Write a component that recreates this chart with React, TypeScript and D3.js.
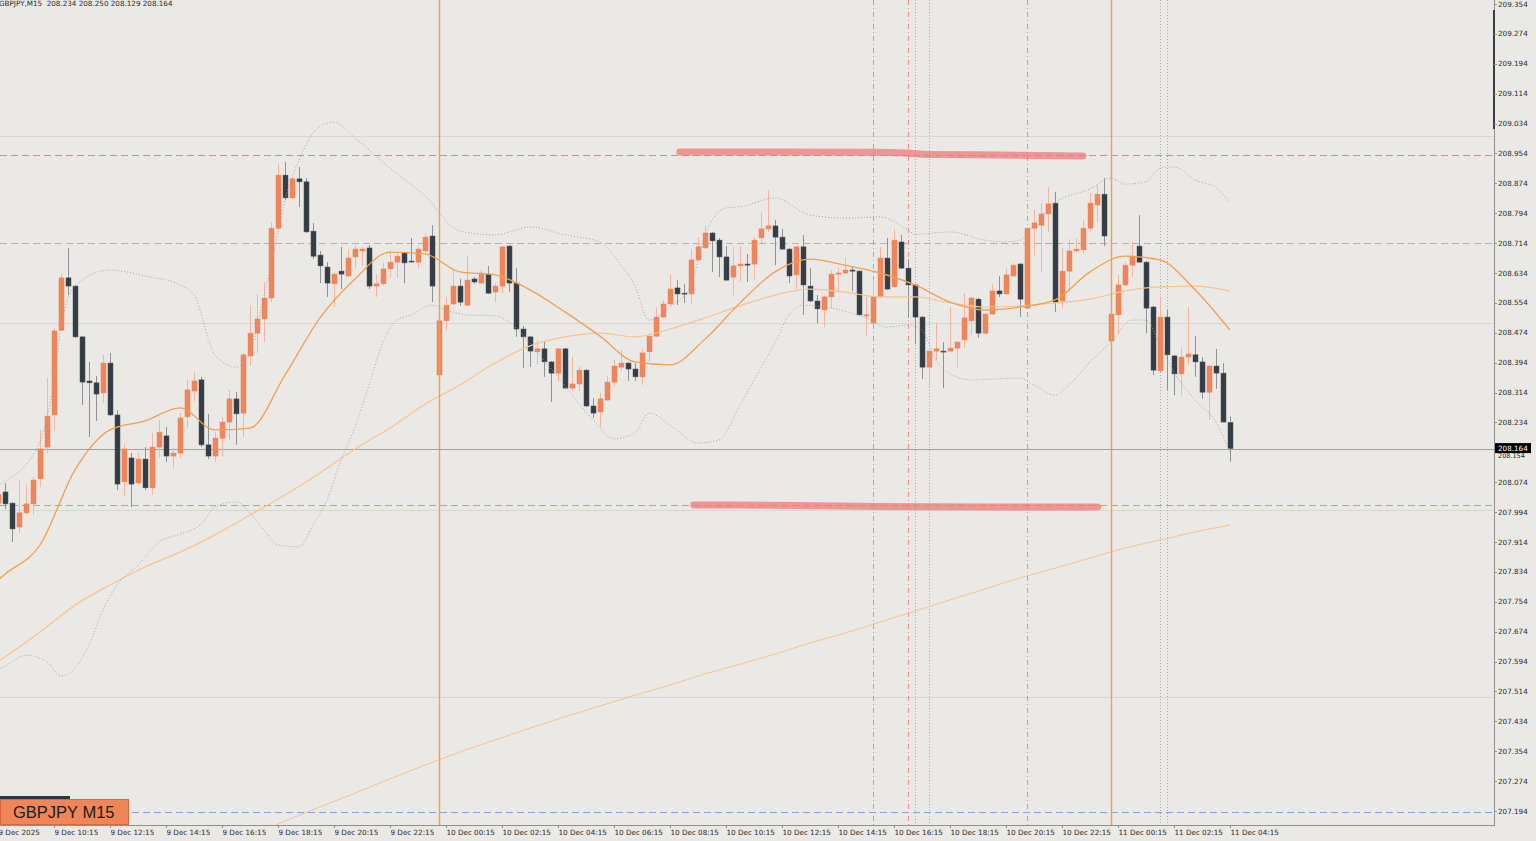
import React from "react";
import * as d3 from "d3";

// ---------- DATA ----------
const FIRST_BAR = -1; // index of first (partly visible) bar
const LAST_BAR = 175;

const opens = [208.018,208.048,208.018,207.954,207.992,208.016,208.083,208.168,208.254,208.481,208.621,208.599,208.463,208.345,208.340,208.313,208.393,208.254,208.075,208.139,208.072,208.136,208.059,208.168,208.198,208.144,208.152,208.249,208.318,208.348,208.174,208.144,208.192,208.235,208.297,208.259,208.412,208.473,208.511,208.567,208.754,208.896,208.835,208.886,208.878,208.746,208.682,208.650,208.605,208.639,208.626,208.677,208.693,208.701,208.599,208.605,208.645,208.663,208.688,208.666,208.663,208.693,208.733,208.361,208.506,208.551,208.599,208.548,208.618,208.607,208.631,208.583,208.599,208.706,208.607,208.484,208.463,208.423,208.431,208.396,208.366,208.431,208.326,208.337,208.374,208.278,208.262,208.294,208.342,208.382,208.393,208.377,208.356,208.423,208.465,208.516,208.551,208.594,208.580,208.578,208.669,208.701,208.741,208.722,208.677,208.623,208.653,208.658,208.658,208.728,208.752,208.760,208.730,208.698,208.629,208.704,208.599,208.559,208.535,208.570,208.631,208.634,208.642,208.639,208.519,208.500,208.570,208.674,208.597,208.717,208.647,208.602,208.516,208.382,208.425,208.425,208.425,208.433,208.455,208.506,208.564,208.473,208.524,208.586,208.578,208.626,208.658,208.540,208.754,208.762,208.792,208.821,208.559,208.639,208.693,208.696,208.754,208.816,208.845,208.452,208.522,208.602,208.655,208.706,208.663,208.543,208.372,208.516,208.412,208.364,208.409,208.415,208.396,208.315,208.385,208.366,208.234];
const highs = [208.053,208.072,208.021,208.080,208.067,208.088,208.214,208.353,208.487,208.634,208.701,208.602,208.465,208.396,208.358,208.415,208.420,208.267,208.176,208.152,208.152,208.168,208.206,208.241,208.222,208.166,208.259,208.348,208.369,208.356,208.257,208.208,208.249,208.321,208.315,208.420,208.548,208.578,208.610,208.770,208.928,208.931,208.891,208.918,208.888,208.768,208.693,208.663,208.637,208.704,208.698,208.709,208.704,208.709,208.631,208.661,208.688,208.688,208.690,208.728,208.704,208.741,208.762,208.508,208.570,208.642,208.618,208.679,208.623,208.642,208.653,208.607,208.706,208.709,208.647,208.492,208.465,208.455,208.449,208.398,208.433,208.433,208.409,208.385,208.377,208.299,208.313,208.358,208.401,208.428,208.396,208.393,208.431,208.473,208.543,208.562,208.629,208.615,208.605,208.698,208.730,208.762,208.744,208.728,208.706,208.704,208.706,208.685,208.730,208.797,208.856,208.776,208.752,208.701,208.706,208.736,208.647,208.575,208.573,208.642,208.647,208.674,208.650,208.642,208.570,208.615,208.704,208.728,208.752,208.736,208.671,208.605,208.519,208.428,208.500,208.449,208.543,208.452,208.580,208.570,208.567,208.527,208.605,208.626,208.647,208.661,208.661,208.757,208.803,208.821,208.864,208.851,208.701,208.725,208.728,208.776,208.848,208.870,208.888,208.527,208.629,208.663,208.717,208.789,208.666,208.546,208.572,208.535,208.415,208.436,208.543,208.465,208.409,208.388,208.431,208.393,208.250];
const lows = [208.010,208.002,207.914,207.938,207.986,207.986,208.061,208.152,208.211,208.479,208.575,208.460,208.281,208.195,208.238,208.286,208.251,208.053,208.037,208.008,208.067,208.053,208.040,208.139,208.128,208.112,208.139,208.219,208.291,208.168,208.136,208.128,208.142,208.187,208.174,208.195,208.385,208.420,208.449,208.556,208.749,208.829,208.832,208.811,208.741,208.671,208.607,208.570,208.543,208.591,208.623,208.647,208.653,208.591,208.570,208.599,208.621,208.621,208.607,208.663,208.647,208.690,208.556,208.358,208.479,208.548,208.546,208.543,208.605,208.605,208.578,208.556,208.580,208.583,208.463,208.380,208.382,208.390,208.356,208.289,208.342,208.324,208.318,208.318,208.275,208.246,208.222,208.291,208.329,208.372,208.345,208.345,208.334,208.396,208.463,208.514,208.548,208.548,208.554,208.551,208.666,208.698,208.637,208.623,208.613,208.575,208.610,208.610,208.615,208.714,208.744,208.655,208.696,208.607,208.591,208.522,208.556,208.500,208.489,208.540,208.583,208.631,208.586,208.519,208.463,208.497,208.567,208.589,208.594,208.645,208.514,208.444,208.350,208.326,208.401,208.326,208.423,208.382,208.433,208.468,208.460,208.468,208.522,208.570,208.575,208.623,208.516,208.538,208.682,208.637,208.744,208.530,208.538,208.583,208.688,208.688,208.744,208.770,208.706,208.449,208.473,208.599,208.623,208.663,208.473,208.361,208.369,208.321,208.307,208.305,208.388,208.356,208.297,208.241,208.324,208.235,208.129];
const closes = [208.042,208.016,207.949,207.992,208.016,208.080,208.163,208.251,208.479,208.621,208.599,208.463,208.342,208.340,208.310,208.393,208.254,208.069,208.163,208.069,208.136,208.059,208.168,208.208,208.144,208.152,208.246,208.321,208.345,208.174,208.144,208.192,208.235,208.297,208.257,208.415,208.473,208.511,208.567,208.754,208.896,208.835,208.886,208.878,208.744,208.679,208.653,208.607,208.631,208.631,208.674,208.698,208.698,208.599,208.605,208.645,208.663,208.679,208.661,208.665,208.698,208.730,208.599,208.506,208.548,208.599,208.556,208.615,208.610,208.634,208.580,208.599,208.704,208.607,208.484,208.463,208.425,208.431,208.396,208.366,208.431,208.326,208.337,208.374,208.278,208.259,208.297,208.342,208.385,208.393,208.377,208.356,208.420,208.465,208.516,208.551,208.591,208.578,208.578,208.669,208.704,208.741,208.720,208.677,208.615,208.653,208.658,208.655,208.722,208.752,208.760,208.730,208.698,208.626,208.704,208.602,208.559,208.538,208.570,208.631,208.634,208.642,208.639,208.522,208.522,208.570,208.674,208.591,208.722,208.647,208.602,208.516,208.382,208.425,208.431,208.423,208.433,208.449,208.514,208.567,208.473,208.524,208.586,208.578,208.629,208.655,208.564,208.754,208.768,208.792,208.819,208.556,208.639,208.693,208.698,208.754,208.821,208.845,208.733,208.524,208.602,208.655,208.677,208.663,208.540,208.374,208.516,208.415,208.364,208.409,208.417,208.396,208.315,208.385,208.366,208.235,208.164];

// moving averages (at bar indices)
const maIdx = [-1,0,5,10,15,20,25,30,35,40,45,50,55,60,65,70,75,80,85,90,95,100,105,110,115,120,125,130,135,140,145,150,155,160,165,170,175];
const fastMA = [207.812,207.828,207.906,208.107,208.214,208.238,208.273,208.214,208.219,208.361,208.514,208.618,208.690,208.685,208.637,208.629,208.589,208.530,208.465,208.396,208.388,208.457,208.554,208.637,208.671,208.655,208.634,208.602,208.556,208.535,208.543,208.562,208.637,208.679,208.669,208.589,208.481];
const midMA = [207.593,207.606,207.673,207.745,207.799,207.847,207.887,207.933,207.986,208.040,208.099,208.163,208.219,208.283,208.334,208.393,208.439,208.463,208.473,208.463,208.484,208.514,208.546,208.575,208.591,208.583,208.570,208.570,208.554,208.543,208.546,208.554,208.564,208.586,208.597,208.599,208.586];
const slowIdx = [30,35,40,45,50,55,60,65,70,75,80,85,90,95,100,105,110,115,120,125,130,135,140,145,150,155,160,165,170,175];
const slowMA = [207.090,207.127,207.167,207.205,207.242,207.280,207.317,207.352,207.384,207.416,207.446,207.475,207.504,207.531,207.561,207.587,207.614,207.644,207.670,207.700,207.729,207.759,207.788,207.818,207.844,207.871,207.898,207.919,207.941,207.959];

// Bollinger bands
const bbUpIdx = [-1,0,5,7,8,10,15,20,25,27,30,33,35,37,39,40,42,45,47,50,55,60,65,70,75,80,85,88,90,92,95,98,100,103,105,110,115,120,125,129,130,135,140,143,145,147,150,155,158,160,163,165,167,170,173,175];
const bbUp = [208.067,208.077,208.182,208.348,208.487,208.599,208.642,208.626,208.602,208.575,208.415,208.382,208.422,208.572,208.741,208.829,208.936,209.027,209.038,208.995,208.915,208.840,208.746,208.736,208.757,208.736,208.717,208.655,208.599,208.508,208.543,208.602,208.736,208.808,208.811,208.835,208.789,208.781,208.784,208.749,208.738,208.744,208.722,208.717,208.722,208.762,208.821,208.859,208.888,208.872,208.878,208.915,208.918,208.883,208.862,208.824];
const bbLoIdx = [-1,0,3,6,8,10,12,14,16,19,22,25,28,30,33,35,37,39,42,44,46,48,50,52,54,56,58,61,63,66,70,73,76,80,84,87,90,92,95,99,102,105,108,110,112,114,118,123,126,129,131,133,135,138,145,147,150,152,155,158,161,163,165,167,170,173,175];
const bbLo = [207.574,207.582,207.611,207.593,207.555,207.577,207.638,207.732,207.799,207.852,207.914,207.935,207.962,208.008,208.021,207.992,207.946,207.906,207.901,207.959,208.026,208.133,208.222,208.334,208.449,208.508,208.522,208.548,208.535,208.522,208.519,208.487,208.423,208.332,208.241,208.190,208.206,208.259,208.227,208.179,208.187,208.281,208.380,208.447,208.522,208.548,208.540,208.514,208.489,208.495,208.481,208.401,208.364,208.348,208.353,208.334,208.307,208.334,208.396,208.449,208.508,208.508,208.441,208.369,208.294,208.235,208.155];

// hand-drawn highlight strokes
const upperMarkIdx = [96.4,123.6,128.6,132.1,142.1,154];
const upperMarkVal = [208.958,208.957,208.955,208.951,208.950,208.947];
const lowerMarkIdx = [98.4,113.6,125,142.1,156.1];
const lowerMarkVal = [208.013,208.012,208.009,208.008,208.008];

// horizontal levels
const roundLevels = [209.0, 208.5, 208.0, 207.5];
const blueLevels = [208.95, 207.19];
const pinkLevels = [208.714];
const salmonLevels = [208.013];
const bidPrice = 208.164;

// vertical markers (bar indices)
const sessionBars = [62, 158];
const redMarkBars = [124, 129, 146];
const greyMarkBars = [130, 132, 165, 166];

// axes
const priceLabels = ["209.354","209.274","209.194","209.114","209.034","208.954","208.874","208.794","208.714","208.634","208.554","208.474","208.394","208.314","208.234","208.154","208.074","207.994","207.914","207.834","207.754","207.674","207.594","207.514","207.434","207.354","207.274","207.194"];
const timeTickIdx = [-1,7,15,23,31,39,47,55,63,71,79,87,95,103,111,119,127,135,143,151,159,167,175];
const timeLabels = ["9 Dec 2025","9 Dec 10:15","9 Dec 12:15","9 Dec 14:15","9 Dec 16:15","9 Dec 18:15","9 Dec 20:15","9 Dec 22:15","10 Dec 00:15","10 Dec 02:15","10 Dec 04:15","10 Dec 06:15","10 Dec 08:15","10 Dec 10:15","10 Dec 12:15","10 Dec 14:15","10 Dec 16:15","10 Dec 18:15","10 Dec 20:15","10 Dec 22:15","11 Dec 00:15","11 Dec 02:15","11 Dec 04:15"];
const headerText = "GBPJPY,M15  208.234 208.250 208.129 208.164";
const symbolLabel = "GBPJPY M15";

// ---------- CHART ----------
const W = 1536;
const H = 841;
const PLOT_R = 1494;
const PLOT_B = 825;
const FONT = "'DejaVu Sans', Verdana, sans-serif";

export default function App() {
  const x = d3.scaleLinear().domain([0, LAST_BAR]).range([5, 1230]);
  const y = d3.scaleLinear().domain([207.194, 209.354]).range([811, 4]);

  const lineGen = (idx: number[], vals: number[]) =>
    d3
      .line<number>()
      .x((_, i) => x(idx[i]))
      .y((v) => y(v))
      .curve(d3.curveMonotoneX)(vals) || "";

  const bars = opens.map((o, i) => ({
    k: i + FIRST_BAR,
    o,
    h: highs[i],
    l: lows[i],
    c: closes[i],
  }));

  const bullFill = "#f0845a";
  const bullWick = "#f2b7a0";
  const bearFill = "#343c45";
  const bearWick = "#8e9296";
  const py = (p: number) => Math.round(y(p)) + 0.5;
  const px = (k: number) => Math.round(x(k)) + 0.5;

  return (
    <svg
      width={W}
      height={H}
      style={{ position: "fixed", left: 0, top: 0, display: "block" }}
      fontFamily={FONT}
    >
      <defs>
        <clipPath id="plot">
          <rect x={0} y={0} width={PLOT_R} height={PLOT_B} />
        </clipPath>
      </defs>
      <rect x={0} y={0} width={W} height={H} fill="#ebe9e5" />

      <g clipPath="url(#plot)">
        {roundLevels.map((p) => (
          <line key={"r" + p} x1={0} x2={PLOT_R} y1={py(p)} y2={py(p)} stroke="#d9d7d3" strokeWidth={1} />
        ))}
        {blueLevels.map((p) => (
          <line key={"b" + p} x1={0} x2={PLOT_R} y1={py(p)} y2={py(p)} stroke="#86a2e2" strokeWidth={1} strokeDasharray="7,4" />
        ))}
        {pinkLevels.map((p) => (
          <line key={"p" + p} x1={0} x2={PLOT_R} y1={py(p)} y2={py(p)} stroke="#f092b4" strokeWidth={1} strokeDasharray="7,4" />
        ))}
        {salmonLevels.map((p) => (
          <line key={"s" + p} x1={0} x2={PLOT_R} y1={py(p)} y2={py(p)} stroke="#f58a72" strokeWidth={1} strokeDasharray="7,4" />
        ))}
        <line x1={0} x2={PLOT_R} y1={py(bidPrice)} y2={py(bidPrice)} stroke="#a3a3a1" strokeWidth={1} />

        {/* vertical markers */}
        {greyMarkBars.map((k) => (
          <line key={"g" + k} x1={px(k)} x2={px(k)} y1={0} y2={PLOT_B} stroke="#a8a8a8" strokeWidth={1} strokeDasharray="1,2" />
        ))}
        {redMarkBars.map((k) => (
          <line key={"rm" + k} x1={px(k)} x2={px(k)} y1={0} y2={PLOT_B} stroke="#ec8f8a" strokeWidth={1} strokeDasharray="5,3,1,3" />
        ))}

        {/* candles */}
        {bars.map((b) => {
          const bull = b.c >= b.o;
          const cx = px(b.k);
          const top = y(Math.max(b.o, b.c));
          const bot = y(Math.min(b.o, b.c));
          const hgt = Math.max(1, bot - top);
          return (
            <g key={"c" + b.k}>
              <line x1={cx} x2={cx} y1={y(b.h)} y2={y(b.l)} stroke={bull ? bullWick : bearWick} strokeWidth={1} />
              <rect
                x={cx - 2.5}
                y={top}
                width={5}
                height={hgt}
                fill={bull ? bullFill : bearFill}
                stroke={bull ? bullFill : "#4b535b"}
                strokeWidth={0.5}
              />
            </g>
          );
        })}

        {/* indicators */}
        <path d={lineGen(slowIdx, slowMA)} fill="none" stroke="#f6c48e" strokeWidth={1} />
        <path d={lineGen(maIdx, midMA)} fill="none" stroke="#f6c48e" strokeWidth={1.2} />
        <path d={lineGen(bbUpIdx, bbUp)} fill="none" stroke="#a3a3b3" strokeWidth={1} strokeDasharray="1,2" />
        <path d={lineGen(bbLoIdx, bbLo)} fill="none" stroke="#a3a3b3" strokeWidth={1} strokeDasharray="1,2" />
        <path d={lineGen(maIdx, fastMA)} fill="none" stroke="#f0a052" strokeWidth={1.3} />

        {/* session separators */}
        {sessionBars.map((k) => (
          <line key={"sv" + k} x1={px(k)} x2={px(k)} y1={0} y2={PLOT_B} stroke="#f0a040" strokeWidth={1.4} />
        ))}

        {/* highlight strokes */}
        <path d={lineGen(upperMarkIdx, upperMarkVal)} fill="none" stroke="#f07a7a" strokeOpacity={0.75} strokeWidth={7} strokeLinecap="round" />
        <path d={lineGen(lowerMarkIdx, lowerMarkVal)} fill="none" stroke="#f07a7a" strokeOpacity={0.75} strokeWidth={7} strokeLinecap="round" />
      </g>

      {/* header */}
      <text x={-1} y={5.5} fontSize={7.2} fill="#2a2a2a" style={{ whiteSpace: "pre" }}>
        {headerText}
      </text>

      {/* right axis */}
      <line x1={PLOT_R + 0.5} x2={PLOT_R + 0.5} y1={0} y2={PLOT_B} stroke="#8f8f8f" strokeWidth={1} />
      <rect x={PLOT_R - 1} y={10} width={2} height={119} fill="#3a3f45" />
      {priceLabels.map((lab) => {
        const yy = y(+lab);
        const hidden = Math.abs(yy - y(bidPrice)) < 6;
        return (
          <g key={"pl" + lab}>
            <line x1={PLOT_R} x2={PLOT_R + 3} y1={Math.round(yy) + 0.5} y2={Math.round(yy) + 0.5} stroke="#8f8f8f" />
            <text x={PLOT_R + 4} y={hidden ? yy + 3 : yy} dy="0.35em" fontSize={hidden ? 6.5 : 7.2} fill="#2a2a2a">
              {lab}
            </text>
          </g>
        );
      })}
      {/* bid label */}
      <rect x={PLOT_R + 1} y={y(bidPrice) - 5.5} width={36} height={10} fill="#000" />
      <text x={PLOT_R + 4} y={y(bidPrice) - 0.5} dy="0.35em" fontSize={7.2} fill="#fff">
        {bidPrice.toFixed(3)}
      </text>

      {/* bottom axis */}
      <line x1={0} x2={PLOT_R + 1} y1={PLOT_B + 0.5} y2={PLOT_B + 0.5} stroke="#8f8f8f" strokeWidth={1} />
      {timeTickIdx.map((k, i) => {
        const xx = px(k);
        return (
          <g key={"t" + k}>
            <line x1={xx} x2={xx} y1={PLOT_B} y2={PLOT_B + 3} stroke="#8f8f8f" />
            <text x={xx} y={835} fontSize={7.2} fill="#2a2a2a">
              {timeLabels[i]}
            </text>
          </g>
        );
      })}

      {/* symbol label */}
      <rect x={0} y={796} width={70} height={3} fill="#2f3740" />
      <rect x={0.5} y={799.5} width={128} height={25} fill="#f08658" stroke="#d4693e" strokeWidth={1} />
      <text x={13} y={818} fontSize={16.5} fontFamily="'Liberation Sans', Arial, sans-serif" fill="#1c1c1c">
        {symbolLabel}
      </text>
    </svg>
  );
}
